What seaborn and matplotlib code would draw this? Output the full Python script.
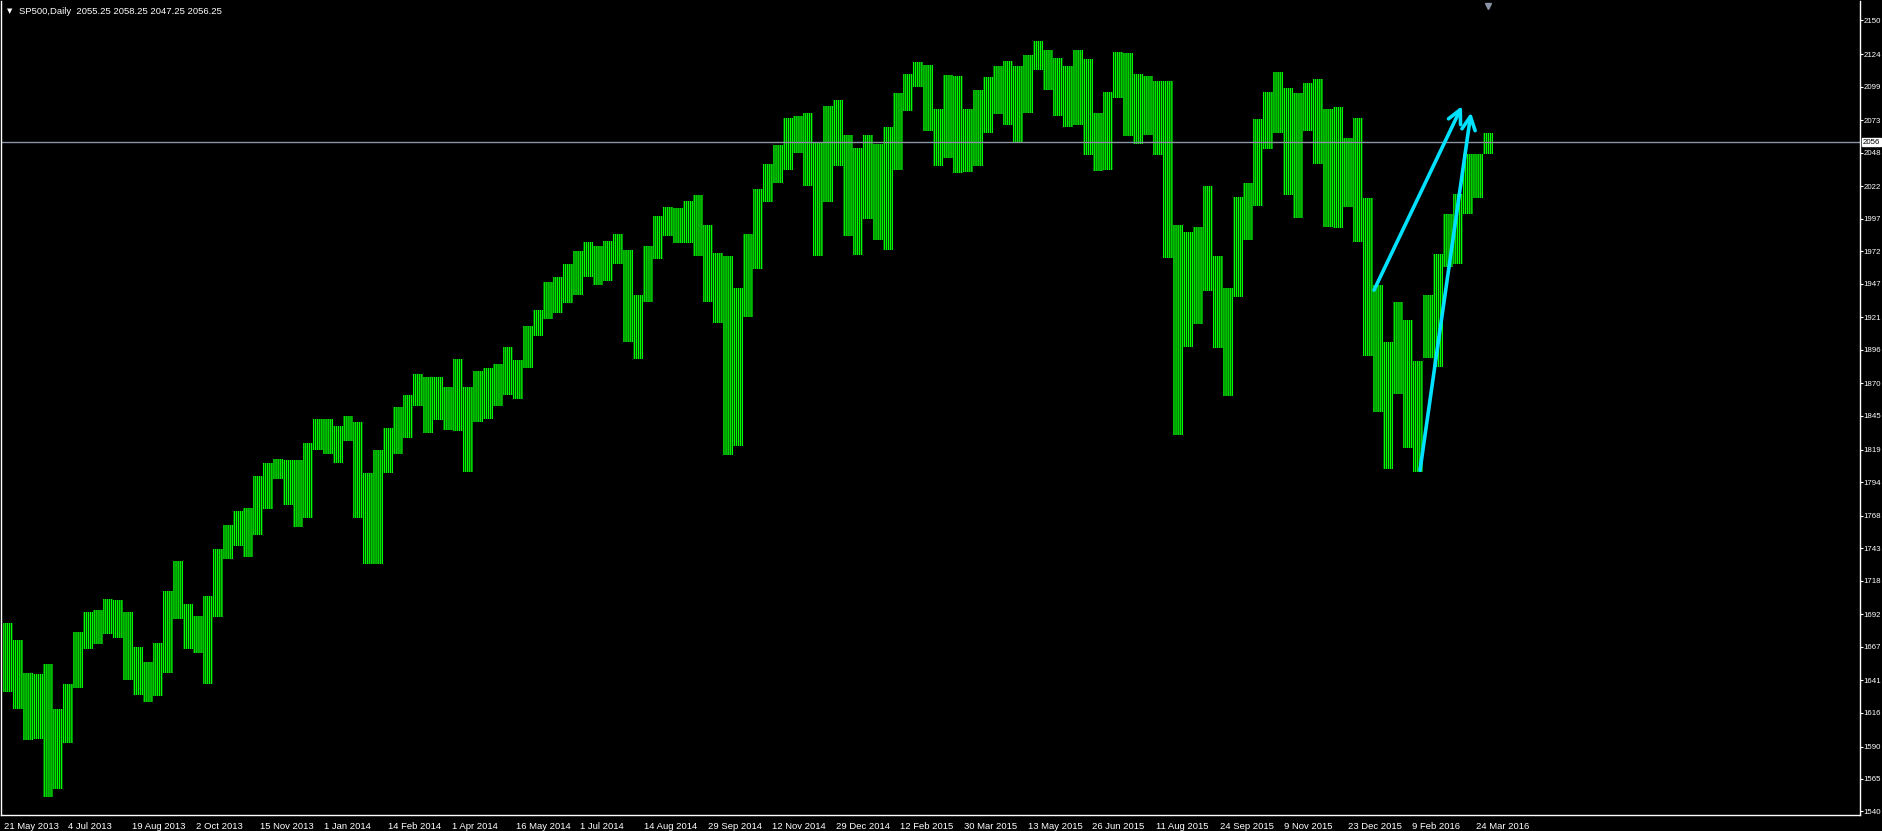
import matplotlib
matplotlib.use("Agg")
import matplotlib.pyplot as plt
import matplotlib.transforms as mtransforms
import seaborn as sns
import pandas as pd

# Weekly high / low. Each entry covers five daily bars,
# the first bar being 21 May 2013.
WEEK_HIGH = [
    1685, 1672, 1647, 1646, 1654, 1619, 1638, 1678, 1694, 1695,
    1704, 1703, 1694, 1667, 1655, 1670, 1710, 1733, 1700, 1691,
    1706, 1742, 1761, 1772, 1774, 1799, 1809, 1812, 1811, 1811,
    1824, 1843, 1843, 1837, 1845, 1840, 1801, 1819, 1836, 1852,
    1861, 1877, 1875, 1875, 1867, 1889, 1867, 1880, 1882, 1885,
    1898, 1888, 1914, 1927, 1948, 1952, 1962, 1972, 1979, 1976,
    1980, 1985, 1973, 1938, 1976, 1999, 2006, 2005, 2011, 2015,
    1992, 1971, 1968, 1944, 1985, 2020, 2039, 2054, 2075, 2076,
    2079, 2056, 2084, 2089, 2062, 2052, 2062, 2055, 2068, 2094,
    2109, 2118, 2116, 2082, 2108, 2107, 2082, 2096, 2106, 2115,
    2119, 2115, 2123, 2134, 2127, 2121, 2115, 2127, 2120, 2079,
    2095, 2126, 2125, 2109, 2107, 2103, 2103, 1992, 1987, 1991,
    2022, 1968, 1944, 2014, 2025, 2074, 2095, 2110, 2098, 2094,
    2102, 2105, 2082, 2083, 2059, 2075, 2013, 1946, 1902, 1933,
    1919, 1887, 1938, 1970, 2001, 2016, 2047, 2047, 2063,
]
WEEK_LOW = [
    1632, 1619, 1595, 1596, 1551, 1557, 1593, 1635, 1665, 1669,
    1677, 1674, 1641, 1630, 1624, 1629, 1647, 1688, 1665, 1662,
    1638, 1690, 1735, 1745, 1736, 1753, 1773, 1796, 1776, 1759,
    1766, 1819, 1816, 1809, 1826, 1766, 1731, 1731, 1801, 1816,
    1828, 1853, 1832, 1842, 1834, 1833, 1802, 1840, 1843, 1853,
    1861, 1858, 1882, 1907, 1920, 1924, 1932, 1938, 1952, 1946,
    1949, 1962, 1902, 1889, 1933, 1966, 1984, 1978, 1978, 1968,
    1933, 1917, 1815, 1822, 1921, 1958, 2010, 2025, 2035, 2048,
    2022, 1968, 2010, 2038, 1984, 1969, 1997, 1981, 1973, 2035,
    2080, 2099, 2065, 2038, 2044, 2032, 2033, 2038, 2063, 2078,
    2069, 2056, 2079, 2112, 2096, 2076, 2068, 2069, 2046, 2034,
    2035, 2090, 2061, 2055, 2062, 2046, 1967, 1830, 1898, 1916,
    1941, 1897, 1860, 1937, 1981, 2007, 2051, 2063, 2015, 1998,
    2065, 2039, 1991, 1990, 2006, 1979, 1891, 1848, 1804, 1862,
    1820, 1802, 1890, 1883, 1960, 1962, 2001, 2013, 2047,
]
BARS_PER_GROUP = 5

DATE_LABELS = [
    "21 May 2013", "4 Jul 2013", "19 Aug 2013", "2 Oct 2013", "15 Nov 2013",
    "1 Jan 2014", "14 Feb 2014", "1 Apr 2014", "16 May 2014", "1 Jul 2014",
    "14 Aug 2014", "29 Sep 2014", "12 Nov 2014", "29 Dec 2014", "12 Feb 2015",
    "30 Mar 2015", "13 May 2015", "26 Jun 2015", "11 Aug 2015", "24 Sep 2015",
    "9 Nov 2015", "23 Dec 2015", "9 Feb 2016", "24 Mar 2016",
]
BARS_PER_LABEL = 32

PRICE_TICKS = [2150, 2124, 2099, 2073, 2048, 2022, 1997, 1972, 1947, 1921,
               1896, 1870, 1845, 1819, 1794, 1768, 1743, 1718, 1692, 1667,
               1641, 1616, 1590, 1565, 1540]

SYMBOL = "SP500,Daily"
LAST_OHLC = [2055.25, 2058.25, 2047.25, 2056.25]
SHIFT_MARK_BAR = 742  # little triangle marking the chart shift

# hand-drawn trend arrows: (bar index, price)
ARROW_START = [(685, 1942), (708, 1803)]
ARROW_END = [(729, 2084), (733.5, 2079)]

BG = "black"
FG = "white"
BAR_COLOR = "#00FF00"
ARROW_COLOR = "#00E1FF"
LINE_COLOR = "#8A93A6"

sns.set_theme(style="dark")
plt.rcParams["font.family"] = ["Liberation Sans", "DejaVu Sans"]
# thin vertical hatch gives the dense daily-bar texture of the terminal
plt.rcParams["hatch.linewidth"] = 1.0
plt.rcParams["hatch.color"] = BAR_COLOR

df = pd.DataFrame({"high": WEEK_HIGH, "low": WEEK_LOW})
df["x"] = df.index * BARS_PER_GROUP + (BARS_PER_GROUP - 1) / 2

W, H = 1882, 831
fig = plt.figure(figsize=(W / 100, H / 100), dpi=100, facecolor=BG)
ax = fig.add_axes([1 / W, 16 / H, 1859 / W, 814 / H])
ax.set_facecolor(BG)

ax.bar(df["x"], df["high"] - df["low"], bottom=df["low"], width=BARS_PER_GROUP,
       facecolor="none", edgecolor=BAR_COLOR, linewidth=0, hatch="|" * 8)

ax.axhline(LAST_OHLC[3], color=LINE_COLOR, lw=1, zorder=1)

for (x0, y0), (x1, y1) in zip(ARROW_START, ARROW_END):
    ax.annotate("", xy=(x1, y1), xytext=(x0, y0),
                arrowprops=dict(arrowstyle="->,head_length=0.8,head_width=0.4",
                                color=ARROW_COLOR, lw=2.6, shrinkA=0, shrinkB=0))

ax.set_xlim(-1.5, 928)
ax.set_ylim(1537.2, 2165.0)

xticks = [i * BARS_PER_LABEL for i in range(len(DATE_LABELS))]
ax.set_xticks(xticks)
ax.set_xticklabels(DATE_LABELS, ha="left")
ax.set_yticks(PRICE_TICKS)
ax.set_yticklabels([str(p) for p in PRICE_TICKS])
ax.yaxis.tick_right()
ax.tick_params(axis="x", colors=FG, labelsize=6.8, length=4, width=0.8,
               direction="out", pad=1)
ax.tick_params(axis="y", colors=FG, labelsize=5.7, length=2, width=0.8,
               direction="out", pad=0.6)
ax.grid(False)
for side in ["left", "bottom", "right"]:
    ax.spines[side].set_color(FG)
    ax.spines[side].set_linewidth(1)
ax.spines["top"].set_visible(False)

# current price box on the right scale
trans = mtransforms.blended_transform_factory(ax.transAxes, ax.transData)
ax.text(1.0015, LAST_OHLC[3], f"{LAST_OHLC[3]:.0f}", transform=trans,
        fontsize=5.7, color="black", va="center", ha="left",
        bbox=dict(boxstyle="square,pad=0.12", facecolor="white", edgecolor="white"),
        clip_on=False, zorder=5)

# shift marker at the top of the chart
trans_top = mtransforms.blended_transform_factory(ax.transData, ax.transAxes)
ax.plot([SHIFT_MARK_BAR], [0.994], marker="v", color="#8A93A6", markersize=4,
        transform=trans_top, clip_on=False)

# chart header
ohlc_text = " ".join(f"{v:.2f}" for v in LAST_OHLC)
fig.text(7 / W, 1 - 11 / H, "▼", color=FG, fontsize=5, va="center", ha="left",
         family=["DejaVu Sans"])
fig.text(19 / W, 1 - 11 / H, f"{SYMBOL}  {ohlc_text}", color=FG, fontsize=6.8,
         va="center", ha="left")

fig.savefig("out.png", dpi=100, facecolor=BG)
